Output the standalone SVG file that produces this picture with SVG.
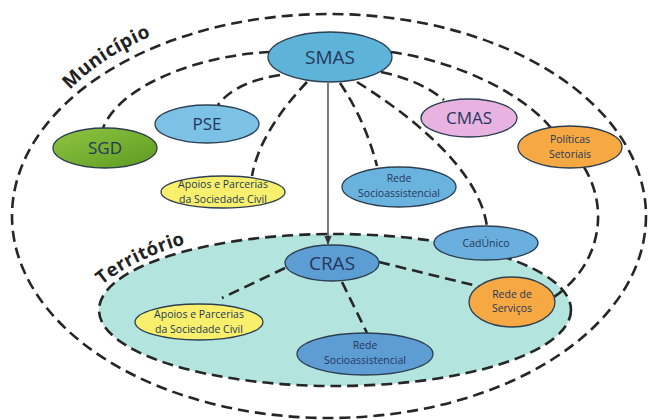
<svg xmlns="http://www.w3.org/2000/svg" width="648" height="420" viewBox="0 0 648 420">
<defs>
<style>
.dash{fill:none;stroke:#262626;stroke-width:2.6;stroke-dasharray:11 6;}
.terr{fill:#b3e4de;stroke:#262626;stroke-width:2.6;stroke-dasharray:11 6;}
.node{stroke:#2c3e50;stroke-width:1.3;}
.t{font-family:"Open Sans","Liberation Sans",sans-serif;fill:#25375a;text-anchor:middle;}
.big{font-size:19px;}
.mid{font-size:17px;}
.sm{font-size:10.5px;}
.lbl{font-family:"Open Sans","Liberation Sans",sans-serif;font-weight:bold;font-size:19px;fill:#222;letter-spacing:0.5px;}
</style>
<linearGradient id="gGreen" x1="0" y1="0" x2="1" y2="1"><stop offset="0" stop-color="#8fc641"/><stop offset="1" stop-color="#5d9a22"/></linearGradient>
<marker id="arr" viewBox="0 0 10 10" refX="9" refY="5" markerWidth="7" markerHeight="7" orient="auto"><path d="M0,1 L10,5 L0,9 z" fill="#333"/></marker>
<path id="pMun" d="M 70,90 Q 108,50 178,26"/>
<path id="pTer" d="M 102,285 Q 137,256 200,240"/>
</defs>
<rect width="648" height="420" fill="#ffffff"/>

<g id="municipio">
<ellipse cx="329" cy="216" rx="317" ry="202" class="dash"/>
<text class="lbl"><textPath href="#pMun">Município</textPath></text>
</g>

<g id="territorio">
<ellipse cx="335" cy="310" rx="236" ry="76" class="terr"/>
<text class="lbl" style="font-size:18.5px"><textPath href="#pTer">Território</textPath></text>
</g>

<g id="connectors">
<path class="dash" d="M270,52 C200,55 120,85 103,128"/>
<path class="dash" d="M280,75 Q235,82 218,105"/>
<path class="dash" d="M307,82 C285,105 258,140 252,176"/>
<path class="dash" d="M391,52 C450,60 520,90 551,128"/>
<path class="dash" d="M381,72 Q420,80 444,100"/>
<path class="dash" d="M357,82 C410,115 480,170 487,227"/>
<path class="dash" d="M340,83 Q365,120 377,166"/>
<path class="dash" d="M584,167 C610,210 600,265 554,297"/>
<path class="dash" d="M379,262 L481,287"/>
<path class="dash" d="M285,268 L222,298"/>
<path class="dash" d="M342,282 L367,333"/>
<line x1="328" y1="83" x2="328" y2="244" stroke="#333" stroke-width="1.3" marker-end="url(#arr)"/>
</g>

<g id="smas"><ellipse cx="330" cy="57" rx="62" ry="25" fill="#5eb4d8" class="node"/><text class="t big" x="330" y="64">SMAS</text></g>
<g id="pse"><ellipse cx="207" cy="124" rx="52" ry="19" fill="#7cc1e6" class="node"/><text class="t mid" x="207" y="130">PSE</text></g>
<g id="sgd"><ellipse cx="105" cy="148" rx="52" ry="20" fill="url(#gGreen)" class="node"/><text class="t mid" x="105" y="154">SGD</text></g>
<g id="apoios1"><ellipse cx="223" cy="192" rx="62" ry="16" fill="#f8f06c" class="node"/><text class="t sm" x="223" y="188">Apoios e Parcerias</text><text class="t sm" x="223" y="202.5">da Sociedade Civil</text></g>
<g id="cmas"><ellipse cx="469" cy="118" rx="48" ry="19" fill="#e8b3e1" class="node"/><text class="t mid" x="469" y="124">CMAS</text></g>
<g id="politicas"><ellipse cx="570" cy="147" rx="52" ry="21" fill="#f6a943" class="node"/><text class="t sm" x="570" y="143">Políticas</text><text class="t sm" x="570" y="157.5">Setoriais</text></g>
<g id="redesocio1"><ellipse cx="399" cy="187" rx="57" ry="20" fill="#6bb3df" class="node"/><text class="t sm" x="399" y="182">Rede</text><text class="t sm" x="399" y="196.5">Socioassistencial</text></g>
<g id="cadunico"><ellipse cx="486" cy="243" rx="52" ry="17" fill="#6aaedd" class="node"/><text class="t sm" x="486" y="247">CadÚnico</text></g>
<g id="cras"><ellipse cx="332" cy="263" rx="47" ry="18" fill="#5c9dd3" class="node"/><text class="t big" x="332" y="270">CRAS</text></g>
<g id="redeservicos"><ellipse cx="512" cy="302" rx="43" ry="25" fill="#f6a943" class="node"/><text class="t sm" x="512" y="297.5">Rede de</text><text class="t sm" x="512" y="312">Serviços</text></g>
<g id="apoios2"><ellipse cx="199" cy="322" rx="64" ry="18" fill="#f8f06c" class="node"/><text class="t sm" x="199" y="318">Apoios e Parcerias</text><text class="t sm" x="199" y="332.5">da Sociedade Civil</text></g>
<g id="redesocio2"><ellipse cx="365" cy="354" rx="68" ry="21" fill="#5e9dd4" class="node"/><text class="t sm" x="365" y="349">Rede</text><text class="t sm" x="365" y="363.5">Socioassistencial</text></g>
</svg>
